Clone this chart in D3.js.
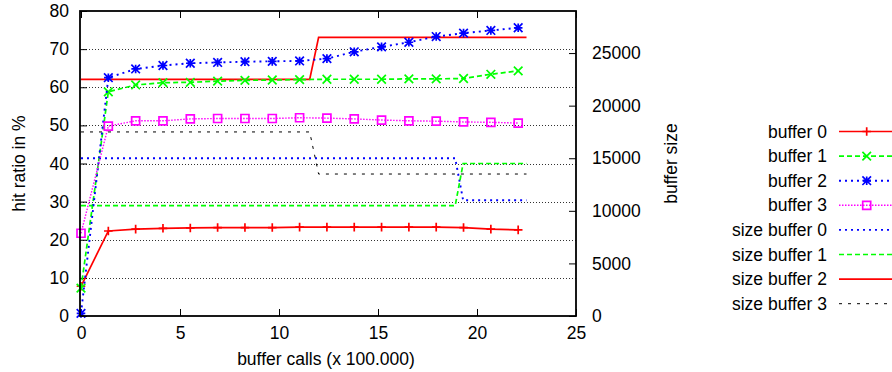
<!DOCTYPE html>
<html><head><meta charset="utf-8">
<script src="https://cdn.jsdelivr.net/npm/d3@7"></script>
<style>
html,body{margin:0;padding:0;background:#fff;}
svg{display:block;font-family:"Liberation Sans",Arial,sans-serif;}
</style></head>
<body><svg id="c" width="892" height="372"></svg>
<script>
// ---- data ----
const callsX = [0, 1.38, 2.76, 4.14, 5.52, 6.9, 8.28, 9.66, 11.04, 12.42, 13.8, 15.18, 16.56, 17.94, 19.32, 20.7, 22.08];
const buffer0 = [7.8, 22.3, 22.8, 23.0, 23.1, 23.2, 23.2, 23.2, 23.3, 23.3, 23.3, 23.3, 23.3, 23.3, 23.2, 22.8, 22.6];
const buffer1 = [7.3, 58.8, 60.6, 61.2, 61.3, 61.6, 61.8, 61.9, 62.0, 62.1, 62.1, 62.1, 62.2, 62.2, 62.3, 63.4, 64.3];
const buffer2 = [0.7, 62.5, 64.8, 65.7, 66.3, 66.5, 66.7, 66.8, 66.9, 67.5, 69.3, 70.6, 71.8, 73.3, 74.2, 74.9, 75.6];
const buffer3 = [21.7, 49.8, 51.2, 51.2, 51.7, 51.8, 51.8, 51.8, 52.0, 51.9, 51.7, 51.4, 51.2, 51.1, 50.9, 50.8, 50.6];

const sizeXa = [0, 18.9, 19.3, 22.5];   // size buffer 0 / 1 sample points
const sizeXb = [0, 11.55, 12.0, 22.5];  // size buffer 2 / 3 sample points
const sizeBuffer0 = [15000, 15000, 11000, 11000];
const sizeBuffer1 = [10500, 10500, 14500, 14500];
const sizeBuffer2 = [22500, 22500, 26500, 26500];
const sizeBuffer3 = [17500, 17500, 13500, 13500];

const xTicks = [0, 5, 10, 15, 20, 25];
const yTicks = [0, 10, 20, 30, 40, 50, 60, 70, 80];
const y2Ticks = [0, 5000, 10000, 15000, 20000, 25000];
const legendLabels = ["buffer 0", "buffer 1", "buffer 2", "buffer 3",
  "size buffer 0", "size buffer 1", "size buffer 2", "size buffer 3"];

// ---- layout ----
const L = 80, R = 576, T = 11, B = 316;
const svg = d3.select("#c");
const x = d3.scaleLinear().domain([0, 25]).range([81, 576]);
const y = d3.scaleLinear().domain([0, 80]).range([B, T]);
const y2 = d3.scaleLinear().domain([0, 29000]).range([B, T]);
const FS = 17.5;

// grid
svg.append("g").selectAll("line").data(yTicks.filter(d => d > 0 && d < 80)).join("line")
  .attr("x1", L).attr("x2", R).attr("y1", d => Math.round(y(d)) + 0.5).attr("y2", d => Math.round(y(d)) + 0.5)
  .attr("stroke", "#000").attr("stroke-width", 1).attr("stroke-dasharray", "1,2").attr("opacity", 0.8);

// axes with d3 axis generators
const tick = 7;
const axB = svg.append("g").attr("transform", `translate(0,${B})`)
  .call(d3.axisBottom(x).tickValues(xTicks).tickSize(-tick).tickPadding(11));
const axT = svg.append("g").attr("transform", `translate(0,${T})`)
  .call(d3.axisTop(x).tickValues(xTicks).tickSize(-tick).tickFormat(""));
const axL = svg.append("g").attr("transform", `translate(${L},0)`)
  .call(d3.axisLeft(y).tickValues(yTicks).tickSize(-tick).tickPadding(11));
const axR = svg.append("g").attr("transform", `translate(${R},0)`)
  .call(d3.axisRight(y2).tickValues(y2Ticks).tickSize(-tick).tickPadding(16).tickFormat(d3.format("d")));
[axB, axT, axL, axR].forEach(a => {
  a.select(".domain").remove();
  a.selectAll("line").attr("stroke", "#000").attr("stroke-width", 1);
  a.selectAll("text").attr("font-size", FS).attr("fill", "#000").attr("font-family", '"Liberation Sans",Arial,sans-serif');
});
axB.selectAll("text").attr("dy", "0.71em");

// series
const line = d3.line().x(d => x(d[0])).y(d => d[1]);
function drawSeries(xs, vs, sc, color, width, dash) {
  const pts = xs.map((xv, i) => [xv, sc(vs[i])]);
  svg.append("path").attr("d", line(pts)).attr("fill", "none")
    .attr("stroke", color).attr("stroke-width", width)
    .attr("stroke-dasharray", dash || null);
  return pts;
}
const s = 4.3;
function markerPath(type, cx, cy) {
  const p = d3.path();
  if (type === "plus" || type === "star") {
    p.moveTo(cx - s, cy); p.lineTo(cx + s, cy);
    p.moveTo(cx, cy - s); p.lineTo(cx, cy + s);
  }
  if (type === "cross" || type === "star") {
    p.moveTo(cx - s, cy - s); p.lineTo(cx + s, cy + s);
    p.moveTo(cx - s, cy + s); p.lineTo(cx + s, cy - s);
  }
  if (type === "square") {
    p.rect(cx - s + 0.3, cy - s + 0.3, 2 * s - 0.6, 2 * s - 0.6);
  }
  return p.toString();
}
function drawMarkers(pts, type, color) {
  svg.append("g").selectAll("path").data(pts).join("path")
    .attr("d", d => markerPath(type, x(d[0]), d[1]))
    .attr("fill", "none").attr("stroke", color).attr("stroke-width", 1.7);
}

const styles = [
  { color: "#ff0000", w: 1.7, dash: null, m: "plus" },
  { color: "#00ff00", w: 1.7, dash: "5,3", m: "cross" },
  { color: "#0000ff", w: 1.9, dash: "2,4", m: "star" },
  { color: "#ff00ff", w: 1.4, dash: "1.5,1.5", m: "square" },
  { color: "#0000ff", w: 1.9, dash: "2,4", m: null },
  { color: "#00ff00", w: 1.7, dash: "5,3", m: null },
  { color: "#ff0000", w: 1.7, dash: null, m: null },
  { color: "#000000", w: 1, dash: "3,6", m: null }
];

// size series (y2)
drawSeries(sizeXa, sizeBuffer0, y2, styles[4].color, styles[4].w, styles[4].dash);
drawSeries(sizeXa, sizeBuffer1, y2, styles[5].color, styles[5].w, styles[5].dash);
drawSeries(sizeXb, sizeBuffer2, y2, styles[6].color, styles[6].w, styles[6].dash);
drawSeries(sizeXb, sizeBuffer3, y2, styles[7].color, styles[7].w, styles[7].dash);

// hit ratio series (y)
[buffer0, buffer1, buffer2, buffer3].forEach((vals, i) => {
  const st = styles[i];
  const pts = drawSeries(callsX, vals, y, st.color, st.w, st.dash);
  drawMarkers(pts, st.m, st.color);
});

// border
svg.append("rect").attr("x", L).attr("y", T).attr("width", R - L).attr("height", B - T)
  .attr("fill", "none").attr("stroke", "#000").attr("stroke-width", 1.8);

// axis titles
svg.append("text").attr("x", 326).attr("y", 365).attr("text-anchor", "middle")
  .attr("font-size", FS).text("buffer calls (x 100.000)");
svg.append("text").attr("transform", "translate(25,163.5) rotate(-90)").attr("text-anchor", "middle")
  .attr("font-size", FS).text("hit ratio in %");
svg.append("text").attr("transform", "translate(677,163.5) rotate(-90)").attr("text-anchor", "middle")
  .attr("font-size", FS).text("buffer size");

// legend
const leg = svg.append("g");
legendLabels.forEach((lab, i) => {
  const cy = 131.5 + i * 24.6;
  const st = styles[i];
  leg.append("text").attr("x", 827).attr("y", cy).attr("dy", "0.35em").attr("text-anchor", "end")
    .attr("font-size", FS).text(lab);
  leg.append("line").attr("x1", 839).attr("x2", 895).attr("y1", cy).attr("y2", cy)
    .attr("stroke", st.color).attr("stroke-width", st.w).attr("stroke-dasharray", st.dash);
  if (st.m) {
    leg.append("path").attr("d", markerPath(st.m, 866.7, cy))
      .attr("fill", "none").attr("stroke", st.color).attr("stroke-width", 1.7);
  }
});
</script></body></html>
